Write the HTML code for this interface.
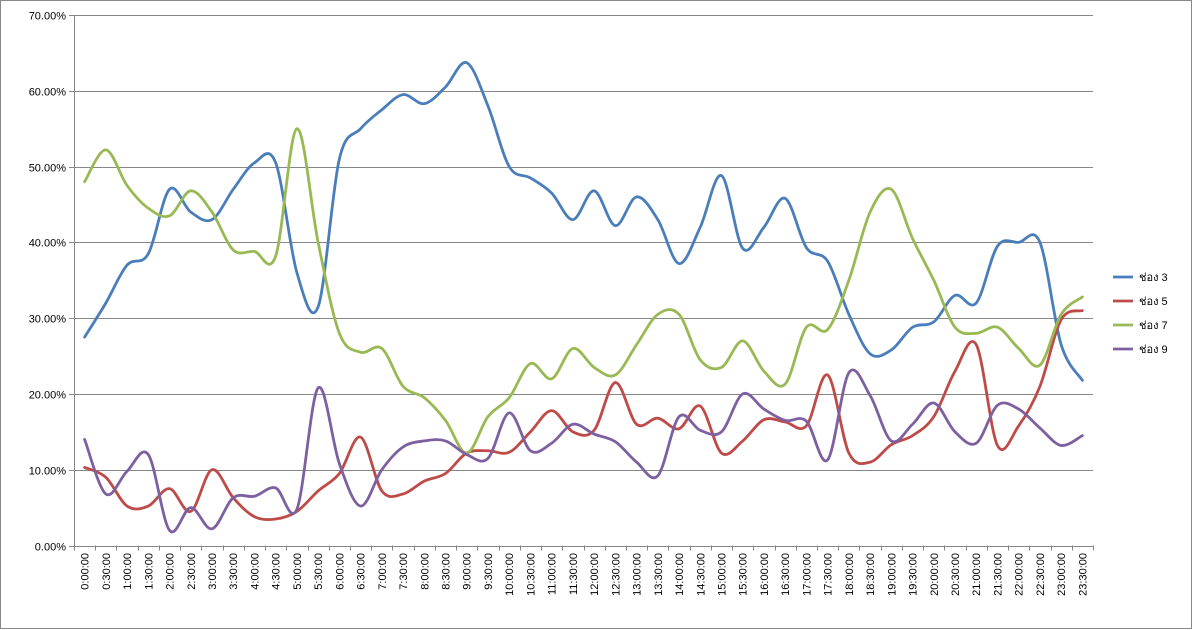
<!DOCTYPE html>
<html><head><meta charset="utf-8"><style>
html,body{margin:0;padding:0;background:#fff;}
svg{display:block;font-family:"Liberation Sans","Noto Sans CJK SC",sans-serif;}
</style></head><body>
<svg id="chart" width="1193" height="630" viewBox="0 0 1193 630">
<rect x="0.5" y="0.5" width="1191" height="628" fill="#fff" stroke="#888"/>
<g id="grid"></g>
<g id="yaxis"></g>
<g id="xaxis"></g>
<g id="series"></g>
<g id="legend"></g>
</svg>
<script>
const categories=[];for(let h=0;h<24;h++){categories.push(h+":00:00");categories.push(h+":30:00");}
const yTicks=[0,10,20,30,40,50,60,70];
const seriesNames=["ช่อง 3","ช่อง 5","ช่อง 7","ช่อง 9"];
const seriesColors=["#4a7ebb","#be4b48","#98b954","#7d60a0"];
const ch3=[27.5,32,37,38.5,47,44,43,47,50.5,50.5,36,31.5,51,55,57.5,59.5,58.3,60.5,63.7,58,50,48.5,46.5,43,46.8,42.2,46,43,37.2,42,48.8,39.2,42,45.8,39.3,37.5,30.5,25.3,25.8,28.8,29.5,33,32,39.5,40,40,26.5,21.8];
const ch5=[10.3,9,5.2,5.2,7.5,4.5,10,6.3,3.8,3.5,4.5,7.2,9.5,14.3,7.2,6.8,8.5,9.5,12.2,12.5,12.3,15,17.8,15,15.2,21.5,16,16.8,15.4,18.4,12.2,13.8,16.6,16.3,15.8,22.5,12.2,11,13.3,14.5,17,23,26.5,13.2,15.8,21,29.8,31];
const ch7=[48,52.2,47.5,44.5,43.5,46.8,44,39,38.8,38.2,55,40,28,25.5,26,21,19.5,16.5,12.2,17,19.5,24,22,26,23.5,22.5,26.5,30.5,30.5,24.5,23.5,27,23,21.3,28.8,28.5,35,44,47,40.5,35,28.8,28,28.8,26,23.8,30.5,32.8];
const ch9=[14,6.8,9.8,12,2,5,2.2,6.3,6.5,7.6,4.8,20.8,10.8,5.2,10,13,13.8,13.8,12,11.5,17.5,12.5,13.5,16,14.7,13.7,11,9.2,17,15.2,15,20,18,16.5,16.4,11.3,22.8,19.8,13.8,16,18.8,15,13.5,18.5,18,15.5,13.2,14.5];
const allSeries=[ch3,ch5,ch7,ch9];
const NS="http://www.w3.org/2000/svg";
const L=74,R=1093,T=15,B=545.5,YMAX=70;
const step=(R-L)/categories.length;
function xs(i){return L+(i+0.5)*step;}
function ys(v){return B-(v/YMAX)*(B-T);}
function mk(t,a,p){const e=document.createElementNS(NS,t);for(const k in a)e.setAttribute(k,a[k]);p.appendChild(e);return e;}
const grid=document.getElementById('grid'),ya=document.getElementById('yaxis'),xa=document.getElementById('xaxis'),sg=document.getElementById('series'),lg=document.getElementById('legend');
yTicks.forEach(v=>{
  const y=Math.round(ys(v))+0.5;
  if(v>0){const g=mk('line',{x1:L,x2:R,y1:y,y2:y,stroke:'#868686','stroke-width':1},grid);
  
  }
  const tk=mk('line',{x1:L-5,x2:L,y1:y,y2:y,stroke:'#868686'},ya);
  
  
  const t=mk('text',{x:L-8,y:y+4,'text-anchor':'end','font-size':11,fill:'#000'},ya);
  t.textContent=v.toFixed(2)+"%";
  
  
});
const ax=mk('line',{x1:L+0.5,x2:L+0.5,y1:T,y2:B,stroke:'#868686'},ya);


const bx=mk('line',{x1:L,x2:R,y1:Math.round(B)+0.5,y2:Math.round(B)+0.5,stroke:'#868686'},xa);


for(let i=0;i<=categories.length;i++){
  const x=Math.round(L+i*step)+0.5;
  const tk=mk('line',{x1:x,x2:x,y1:B,y2:B+5,stroke:'#868686'},xa);
  
  
}
categories.forEach((c,i)=>{
  const x=xs(i)+4,y=553;
  const t=mk('text',{x:x,y:y,'text-anchor':'end','font-size':11,fill:'#000',transform:'rotate(-90 '+x+' '+y+')'},xa);
  t.textContent=c;
  
  
});
function smooth(vals){
  const p=vals.map((v,i)=>[xs(i),ys(v)]);
  let d='M'+p[0][0]+','+p[0][1];
  for(let i=0;i<p.length-1;i++){
    const p0=p[i-1]||p[i],p1=p[i],p2=p[i+1],p3=p[i+2]||p2;
    const c1=[p1[0]+(p2[0]-p0[0])/6,p1[1]+(p2[1]-p0[1])/6];
    const c2=[p2[0]-(p3[0]-p1[0])/6,p2[1]-(p3[1]-p1[1])/6];
    d+=' C'+c1[0]+','+c1[1]+' '+c2[0]+','+c2[1]+' '+p2[0]+','+p2[1];
  }
  return d;
}
allSeries.forEach((s,k)=>{
  const path=mk('path',{d:smooth(s),fill:'none',stroke:seriesColors[k],'stroke-width':2.8,'stroke-linejoin':'round','stroke-linecap':'round'},sg);
  
  
  const y=277+k*24;
  const ll=mk('line',{x1:1113,x2:1133,y1:y,y2:y,stroke:seriesColors[k],'stroke-width':2.8},lg);
  
  
  const t=mk('text',{x:1139,y:y+4,'font-size':11,fill:'#000'},lg);
  t.textContent=seriesNames[k];
  
  
});
</script>
</body></html>
